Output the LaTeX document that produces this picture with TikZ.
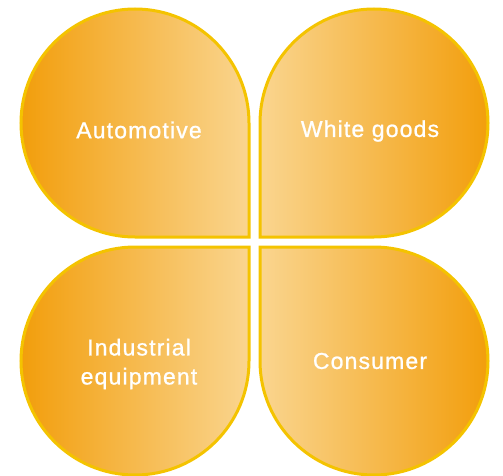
\documentclass[tikz,border=0pt]{standalone}
\usepackage{fontspec}
\setmainfont[LetterSpace=5,FakeBold=1]{Liberation Sans}
\usepackage{tikz}
\definecolor{petalorange}{HTML}{F29E0C}
\definecolor{petallight}{HTML}{FAD58F}
\definecolor{petalrim}{HTML}{F4C300}
\tikzset{petal/.style={draw=petalrim, line width=3pt, line join=miter},
    outleft/.style={petal, left color=petalorange, right color=petallight},
    outright/.style={petal, left color=petallight, right color=petalorange},
    sector/.style={text=white, font=\fontsize{23}{29}\selectfont, inner sep=0pt, align=center}}

\begin{document}
\begin{tikzpicture}[x=1pt, y=1pt]
                 \useasboundingbox (0,0) rectangle (503,475);

                 % upper pair
                 \draw[outleft] (249,238) -- (249,352) arc[start angle=0, end angle=270, radius=114] -- cycle;
                 \draw[outright] (260,238) -- (260,352) arc[start angle=180, end angle=-90, radius=114] -- cycle;

                 % lower pair
                 \draw[outleft] (249,228) -- (135,228) arc[start angle=90, end angle=360, radius=114] -- cycle;
                 \draw[outright] (260,228) -- (260,114) arc[start angle=180, end angle=450, radius=114] -- cycle;

                 \node[sector] (automotive) at (139,345) {Automotive};
                 \node[sector] (whitegoods) at (370,344) {White goods};
                 \node[sector] (industrial) at (139,111) {Industrial\\equipment};
                 \node[sector] (consumer) at (370,114) {Consumer};

\end{tikzpicture}
\end{document}
